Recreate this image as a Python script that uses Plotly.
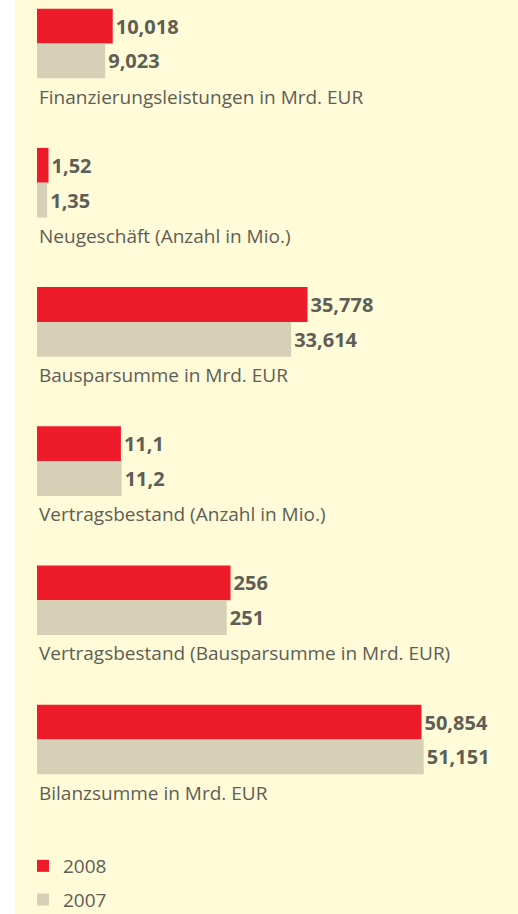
import plotly.graph_objects as go

categories = [
    "Finanzierungsleistungen in Mrd. EUR",
    "Neugeschäft (Anzahl in Mio.)",
    "Bausparsumme in Mrd. EUR",
    "Vertragsbestand (Anzahl in Mio.)",
    "Vertragsbestand (Bausparsumme in Mrd. EUR)",
    "Bilanzsumme in Mrd. EUR",
]
values_2008 = [10.018, 1.52, 35.778, 11.1, 256, 50.854]
values_2007 = [9.023, 1.35, 33.614, 11.2, 251, 51.151]
labels_2008 = ["10,018", "1,52", "35,778", "11,1", "256", "50,854"]
labels_2007 = ["9,023", "1,35", "33,614", "11,2", "251", "51,151"]
# category drawn on a 10x compressed scale
secondary = [False, False, False, False, True, False]

RED = "#ee1c2b"
GRAY = "#d6d1b6"
BG = "#fffad8"
TXT = "#5e5e55"
FONT = "Open Sans"

W, H = 518, 914
ML = 37
PX_PER_UNIT = 7.56
plot_w = W - ML
xmax = plot_w / PX_PER_UNIT

fig = go.Figure()

series = [
    ("2008", values_2008, labels_2008, RED, -0.25),
    ("2007", values_2007, labels_2007, GRAY, 0.0),
]
for name, vals, labs, col, off in series:
    for sec in (False, True):
        idx = [i for i in range(len(categories)) if secondary[i] == sec]
        fig.add_trace(go.Bar(
            name=name,
            legendgroup=name,
            showlegend=not sec,
            orientation="h",
            y=[categories[i] for i in idx],
            x=[vals[i] for i in idx],
            text=[labs[i] for i in idx],
            textposition="outside",
            constraintext="none",
            cliponaxis=False,
            textfont=dict(family=FONT, size=20, color=TXT, weight="bold"),
            marker=dict(color=col, line=dict(width=0)),
            width=0.25,
            offset=off,
            xaxis="x2" if sec else "x",
            hoverinfo="skip",
        ))

for c in categories:
    fig.add_annotation(
        x=0, y=c, xref="x", yref="y", text=c, showarrow=False,
        xanchor="left", yanchor="middle", yshift=-53,
        font=dict(family=FONT, size=19, color=TXT),
    )

fig.add_shape(type="rect", xref="paper", yref="paper",
              x0=(15 - ML) / plot_w, x1=1.0, y0=0, y1=1,
              fillcolor=BG, line=dict(width=0), layer="below")

top = -43.5 / 139.2
fig.update_layout(
    width=W, height=H,
    margin=dict(l=ML, r=0, t=0, b=0, autoexpand=False),
    paper_bgcolor="white",
    plot_bgcolor="rgba(0,0,0,0)",
    barmode="overlay",
    showlegend=True,
    legend=dict(
        x=(23 - ML) / plot_w, xanchor="left",
        y=1 - 847 / H, yanchor="top",
        orientation="v", traceorder="grouped",
        tracegroupgap=6,
        bgcolor="rgba(0,0,0,0)",
        font=dict(family=FONT, size=19, color=TXT),
    ),
    xaxis=dict(range=[0, xmax], visible=False, fixedrange=True),
    xaxis2=dict(range=[0, xmax * 10], visible=False, overlaying="x", fixedrange=True),
    yaxis=dict(
        type="category", categoryorder="array", categoryarray=categories,
        range=[top + H / 139.2, top], visible=False, fixedrange=True,
    ),
    font=dict(family=FONT, color=TXT),
)

fig.write_html(
    "out.html",
    config={"displayModeBar": False, "staticPlot": True},
    post_script="document.body.style.margin='0';document.body.style.overflow='hidden';",
)
